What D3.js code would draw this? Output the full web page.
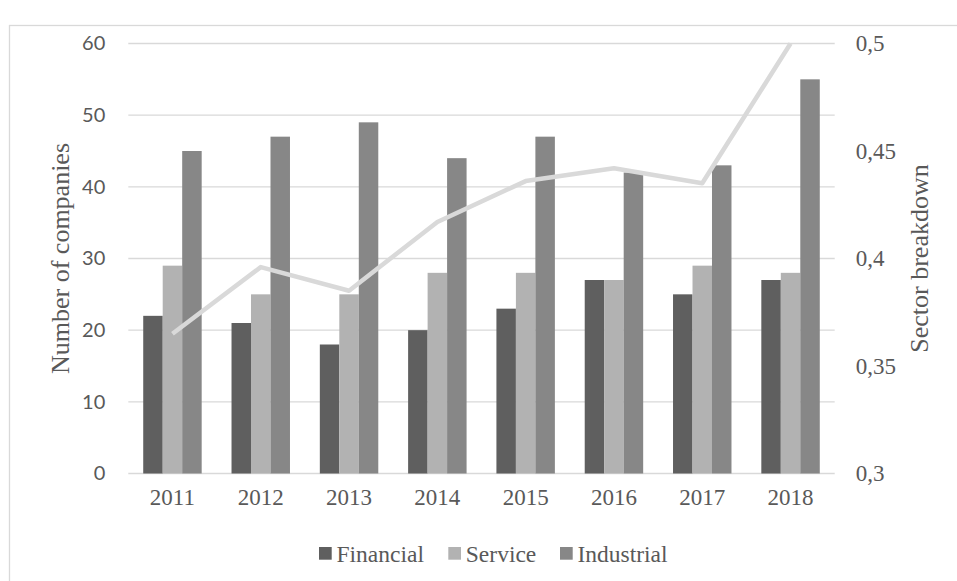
<!DOCTYPE html>
<html>
<head>
<meta charset="utf-8">
<script src="https://cdn.jsdelivr.net/npm/d3@7"></script>
<style>
  html, body { margin: 0; padding: 0; background: #ffffff; }
  svg { display: block; }
</style>
</head>
<body>
<svg id="chart" width="957" height="581"></svg>
<script>
// Companies per sector and year, plus the sector breakdown ratio
const years = ["2011", "2012", "2013", "2014", "2015", "2016", "2017", "2018"];
const seriesNames = ["Financial", "Service", "Industrial"];
const financial = [22, 21, 18, 20, 23, 27, 25, 27];
const service = [29, 25, 25, 28, 28, 27, 29, 28];
const industrial = [45, 47, 49, 44, 47, 42, 43, 55];
const breakdown = [0.365, 0.396, 0.385, 0.417, 0.436, 0.442, 0.435, 0.5];
const leftTicks = [0, 10, 20, 30, 40, 50, 60];
const rightTicks = [0.3, 0.35, 0.4, 0.45, 0.5];

const seriesValues = [financial, service, industrial];
const colors = ["#5f5f5f", "#b2b2b2", "#878787"];
const textColor = "#595959";
const gridColor = "#d9d9d9";
const serif = "'Liberation Serif', 'Times New Roman', serif";
const sans = "Lato, 'Open Sans', sans-serif";

const svg = d3.select("#chart");

// outer frame
svg.append("rect")
  .attr("x", 9.5).attr("y", 25.5)
  .attr("width", 1000).attr("height", 600)
  .attr("fill", "none").attr("stroke", gridColor).attr("stroke-width", 1.3);

const plot = { left: 128.3, right: 834.7, top: 43.5, bottom: 473.5 };

const x0 = d3.scaleBand()
  .domain(years)
  .range([plot.left, plot.right])
  .paddingInner(0.338)
  .paddingOuter(0.169);

const x1 = d3.scaleBand()
  .domain(seriesNames)
  .range([0, x0.bandwidth()]);

const yLeft = d3.scaleLinear().domain([0, 60]).range([plot.bottom, plot.top]);
const yRight = d3.scaleLinear().domain([0.3, 0.5]).range([plot.bottom, plot.top]);

// horizontal gridlines
svg.append("g")
  .selectAll("line")
  .data(leftTicks)
  .join("line")
  .attr("x1", plot.left).attr("x2", plot.right)
  .attr("y1", d => yLeft(d)).attr("y2", d => yLeft(d))
  .attr("stroke", gridColor).attr("stroke-width", 1.4);

// left axis labels
const leftAxis = svg.append("g")
  .attr("transform", `translate(${plot.left},0)`)
  .call(d3.axisLeft(yLeft).tickValues(leftTicks).tickSize(0).tickPadding(23).tickFormat(d3.format("d")));
leftAxis.select(".domain").remove();
leftAxis.selectAll("text")
  .attr("fill", textColor)
  .style("font-family", sans)
  .style("font-size", "20px");

// right axis labels
const fmtComma = d => String(d).replace(".", ",");
const rightAxis = svg.append("g")
  .attr("transform", `translate(${plot.right},0)`)
  .call(d3.axisRight(yRight).tickValues(rightTicks).tickSize(0).tickPadding(21).tickFormat(fmtComma));
rightAxis.select(".domain").remove();
rightAxis.selectAll("text")
  .attr("fill", textColor)
  .style("font-family", serif)
  .style("font-size", "23px");

// category axis labels
const bottomAxis = svg.append("g")
  .attr("transform", `translate(0,${plot.bottom})`)
  .call(d3.axisBottom(x0).tickSize(0).tickPadding(15));
bottomAxis.select(".domain").remove();
bottomAxis.selectAll("text")
  .attr("fill", textColor)
  .style("font-family", serif)
  .style("font-size", "23px");

// grouped bars
const groups = svg.append("g")
  .selectAll("g")
  .data(years)
  .join("g")
  .attr("transform", d => `translate(${x0(d)},0)`);

groups.selectAll("rect")
  .data((yr, i) => seriesNames.map((s, k) => ({ s, k, v: seriesValues[k][i] })))
  .join("rect")
  .attr("x", d => x1(d.s))
  .attr("width", x1.bandwidth())
  .attr("y", d => yLeft(d.v))
  .attr("height", d => yLeft(0) - yLeft(d.v))
  .attr("fill", d => colors[d.k]);

// breakdown line on the right axis
const line = d3.line()
  .x((d, i) => x0(years[i]) + x0.bandwidth() / 2)
  .y(d => yRight(d));

svg.append("path")
  .datum(breakdown)
  .attr("d", line)
  .attr("fill", "none")
  .attr("stroke", gridColor)
  .attr("stroke-width", 4.5)
  .attr("stroke-linejoin", "round");

// axis titles
svg.append("text")
  .attr("transform", `translate(60,${(plot.top + plot.bottom) / 2}) rotate(-90)`)
  .attr("text-anchor", "middle")
  .attr("dy", "0.35em")
  .attr("fill", textColor)
  .style("font-family", serif)
  .style("font-size", "26px")
  .text("Number of companies");

svg.append("text")
  .attr("transform", `translate(919,${(plot.top + plot.bottom) / 2}) rotate(-90)`)
  .attr("text-anchor", "middle")
  .attr("dy", "0.35em")
  .attr("fill", textColor)
  .style("font-family", serif)
  .style("font-size", "26px")
  .text("Sector breakdown");

// legend
const legendX = [319, 448.3, 560];
const legend = svg.append("g")
  .selectAll("g")
  .data(seriesNames)
  .join("g")
  .attr("transform", (d, i) => `translate(${legendX[i]},547)`);

legend.append("rect")
  .attr("width", 12.7).attr("height", 12.7)
  .attr("fill", (d, i) => colors[i]);

legend.append("text")
  .attr("x", 17.5)
  .attr("y", 14.5)
  .attr("fill", textColor)
  .style("font-family", serif)
  .style("font-size", "23.5px")
  .text(d => d);
</script>
</body>
</html>
